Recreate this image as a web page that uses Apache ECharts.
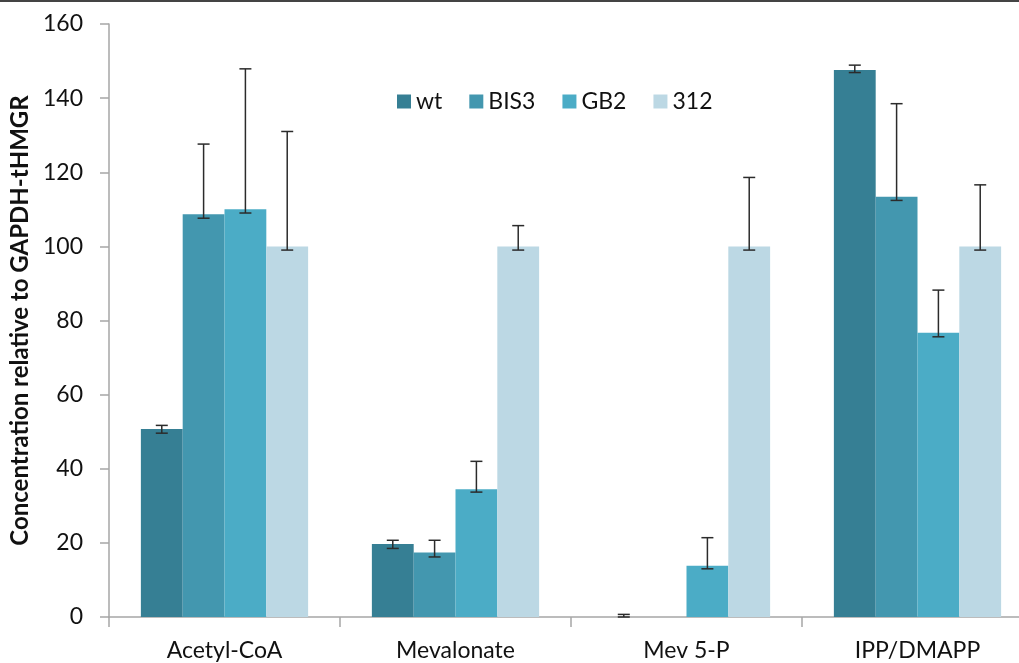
<!DOCTYPE html>
<html>
<head>
<meta charset="utf-8">
<script src="https://cdn.jsdelivr.net/npm/echarts@6/dist/echarts.min.js"></script>
<style>
html,body{margin:0;padding:0;background:#fff;}
#chart{width:1019px;height:663px;}
</style>
</head>
<body>
<div id="chart"></div>
<script>
const categories = ['Acetyl-CoA', 'Mevalonate', 'Mev 5-P', 'IPP/DMAPP'];
const seriesNames = ['wt', 'BIS3', 'GB2', '312'];
const wtValues   = [50.7, 19.7, 0, 147.6];
const bis3Values = [108.7, 17.4, 0, 113.4];
const gb2Values  = [110.0, 34.5, 13.8, 76.7];
const s312Values = [100, 100, 100, 100];
const wtLow    = [49.6, 18.5, 0, 146.9];
const wtHigh   = [51.7, 20.7, 0.7, 148.9];
const bis3Low  = [107.6, 16.2, null, 112.4];
const bis3High = [127.6, 20.7, null, 138.5];
const gb2Low   = [109.0, 33.7, 13.0, 75.6];
const gb2High  = [147.9, 42.0, 21.4, 88.2];
const s312Low  = [99, 99, 99, 99];
const s312High = [131, 105.6, 118.6, 116.6];
const yTicks = [0, 20, 40, 60, 80, 100, 120, 140, 160];

const colors = ['#367f94', '#4397af', '#4bacc6', '#bcd8e4'];
const values = [wtValues, bis3Values, gb2Values, s312Values];
const lows = [wtLow, bis3Low, gb2Low, s312Low];
const highs = [wtHigh, bis3High, gb2High, s312High];
const GAP = 0.276;
const FONT = 'Lato, "Open Sans", sans-serif';

const chart = echarts.init(document.getElementById('chart'));

const barSeries = seriesNames.map((n, i) => ({
  name: n,
  type: 'bar',
  data: values[i],
  barGap: '0%',
  barCategoryGap: (GAP * 100) + '%',
  itemStyle: { color: colors[i] },
  emphasis: { disabled: true },
  z: 2
}));

const errSeries = seriesNames.map((n, i) => ({
  type: 'custom',
  name: n + '-err',
  z: 5,
  silent: true,
  data: categories.map((c, j) => [j, lows[i][j], highs[i][j]]).filter(d => d[1] != null),
  renderItem: function (params, api) {
    const j = api.value(0);
    const band = api.size([1, 0])[0];
    const bw = band * (1 - GAP) / 4;
    const cx = api.coord([j, 0])[0] - band * (1 - GAP) / 2 + bw * (i + 0.5);
    const yl = api.coord([j, api.value(1)])[1];
    const yh = api.coord([j, api.value(2)])[1];
    const cap = 6;
    const st = { stroke: '#2b2b2b', lineWidth: 1.5 };
    return {
      type: 'group',
      children: [
        { type: 'line', shape: { x1: cx, y1: yl, x2: cx, y2: yh }, style: st },
        { type: 'line', shape: { x1: cx - cap, y1: yh, x2: cx + cap, y2: yh }, style: st },
        { type: 'line', shape: { x1: cx - cap, y1: yl, x2: cx + cap, y2: yl }, style: st }
      ]
    };
  }
}));

chart.setOption({
  animation: false,
  backgroundColor: '#ffffff',
  graphic: [{ type: 'rect', shape: { x: 0, y: 0, width: 1019, height: 2 }, style: { fill: '#444' } }],
  legend: {
    data: seriesNames,
    left: 392,
    top: 85,
    icon: 'rect',
    itemWidth: 14,
    itemHeight: 14,
    itemGap: 27,
    textStyle: { fontSize: 23, fontFamily: FONT, color: '#111' }
  },
  grid: { left: 109, right: -14, top: 24, bottom: 46, containLabel: false, outerBoundsMode: 'none' },
  xAxis: {
    type: 'category',
    data: categories,
    axisLine: { lineStyle: { color: '#a6a6a6', width: 1.5 } },
    axisTick: { show: true, length: 10, lineStyle: { color: '#a6a6a6', width: 1.5 } },
    axisLabel: { fontSize: 23, fontFamily: FONT, color: '#111', margin: 22 },
    splitLine: { show: false }
  },
  yAxis: {
    type: 'value',
    min: 0, max: 160, interval: 20,
    name: 'Concentration relative to GAPDH-tHMGR',
    nameLocation: 'middle',
    nameGap: 77,
    nameTextStyle: { fontSize: 24, fontWeight: 'bold', fontFamily: FONT, color: '#111' },
    axisLine: { show: true, lineStyle: { color: '#a6a6a6', width: 1.5 } },
    axisTick: { show: true, length: 9, lineStyle: { color: '#a6a6a6', width: 1.5 } },
    axisLabel: { fontSize: 23, fontFamily: FONT, color: '#111', margin: 26,
      formatter: v => yTicks.includes(v) ? String(v) : '' },
    splitLine: { show: false }
  },
  series: barSeries.concat(errSeries)
});
</script>
</body>
</html>
